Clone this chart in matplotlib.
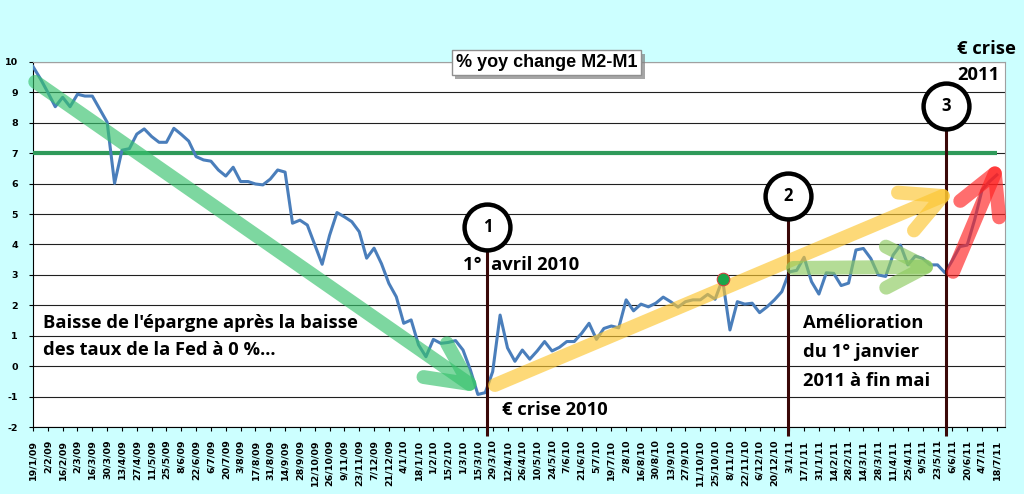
import matplotlib
matplotlib.use("Agg")
import matplotlib.pyplot as plt
import matplotlib.patheffects as pe
import numpy as np

# weekly % yoy change M2-M1, 19/1/09 -> 18/7/11
values = [9.85, 9.45, 9.0, 8.53, 8.84, 8.53, 8.94, 8.88, 8.88, 8.45,
          8.02, 6.01, 7.1, 7.15, 7.63, 7.8, 7.55, 7.36, 7.36, 7.82,
          7.62, 7.4, 6.89, 6.78, 6.74, 6.45, 6.25, 6.54, 6.07, 6.07,
          5.99, 5.96, 6.15, 6.45, 6.38, 4.7, 4.8, 4.64, 4.0, 3.35,
          4.3, 5.05, 4.91, 4.75, 4.42, 3.55, 3.88, 3.37, 2.72, 2.28,
          1.41, 1.52, 0.7, 0.31, 0.88, 0.75, 0.78, 0.84, 0.53, -0.13,
          -0.93, -0.87, -0.18, 1.68, 0.6, 0.16, 0.53, 0.23, 0.5, 0.81,
          0.5, 0.62, 0.81, 0.81, 1.08, 1.41, 0.88, 1.24, 1.32, 1.26,
          2.18, 1.82, 2.04, 1.95, 2.07, 2.27, 2.12, 1.94, 2.12, 2.18,
          2.18, 2.36, 2.2, 2.86, 1.19, 2.12, 2.04, 2.07, 1.76, 1.95,
          2.18, 2.45, 3.1, 3.15, 3.58, 2.78, 2.37, 3.07, 3.05, 2.65,
          2.73, 3.82, 3.87, 3.54, 3.0, 2.95, 3.65, 3.98, 3.33, 3.62,
          3.54, 3.33, 3.33, 3.07, 3.48, 3.93, 3.98, 4.81, 5.79, 6.07,
          6.29]

tick_labels = ["19/1/09", "2/2/09", "16/2/09", "2/3/09", "16/3/09", "30/3/09",
               "13/4/09", "27/4/09", "11/5/09", "25/5/09", "8/6/09", "22/6/09",
               "6/7/09", "20/7/09", "3/8/09", "17/8/09", "31/8/09", "14/9/09",
               "28/9/09", "12/10/09", "26/10/09", "9/11/09", "23/11/09", "7/12/09",
               "21/12/09", "4/1/10", "18/1/10", "1/2/10", "15/2/10", "1/3/10",
               "15/3/10", "29/3/10", "12/4/10", "26/4/10", "10/5/10", "24/5/10",
               "7/6/10", "21/6/10", "5/7/10", "19/7/10", "2/8/10", "16/8/10",
               "30/8/10", "13/9/10", "27/9/10", "11/10/10", "25/10/10", "8/11/10",
               "22/11/10", "6/12/10", "20/12/10", "3/1/11", "17/1/11", "31/1/11",
               "14/2/11", "28/2/11", "14/3/11", "28/3/11", "11/4/11", "25/4/11",
               "9/5/11", "23/5/11", "6/6/11", "20/6/11", "4/7/11", "18/7/11"]

threshold = 7
peak_week = 93
event_weeks = [61.3, 101.8, 123.2]
event_tops = [4.58, 5.6, 8.55]
event_names = ["1", "2", "3"]

weeks = np.arange(len(values))

calib = "Open Sans"
fs = 13.2
fig = plt.figure(figsize=(10.24, 4.94), dpi=100)
fig.patch.set_facecolor("#ccffff")
ax = fig.add_axes([33 / 1024, 1 - 427 / 494, 972 / 1024, 365 / 494])
ax.set_facecolor("white")

ax.set_xlim(0, 131.1)
ax.set_ylim(-2, 10)
ax.set_yticks(range(-2, 11))
ax.set_yticklabels([str(v) for v in range(-2, 11)], fontsize=6.8,
                   fontweight="bold", family="DejaVu Sans")
ax.set_xticks(np.arange(0, len(values), 2))
ax.set_xticklabels(tick_labels, rotation=90, fontsize=6.8, fontweight="bold",
                   family="DejaVu Sans")
ax.tick_params(axis="x", length=3, width=0.8, pad=6)
ax.tick_params(axis="y", length=3, width=0.8, pad=8)
ax.grid(axis="y", color="#202020", lw=0.8)
ax.set_axisbelow(True)
for s in ["top", "right"]:
    ax.spines[s].set_color("#a0a0a0")
for s in ["left", "bottom"]:
    ax.spines[s].set_color("black")

ax.hlines(threshold, 0, len(values) - 1, color="#2f9a5a", lw=3, zorder=3)
ax.plot(weeks, values, color="#4a7ebb", lw=2.2, zorder=4)
ax.plot(weeks[peak_week], values[peak_week], "o", ms=9, mfc="#1aa64a",
        mec="#d04040", mew=0.8, zorder=11)

# event markers
for wk, top, name in zip(event_weeks, event_tops, event_names):
    ax.plot([wk, wk], [top, -2.3], color="#3a0808", lw=2.2, zorder=7,
            clip_on=False, solid_capstyle="butt")
    ax.plot(wk, top, "o", ms=33, mfc="white", mec="black", mew=3.2, zorder=8,
            clip_on=False)
    ax.text(wk, top, name, ha="center", va="center", fontsize=12,
            fontweight="bold", family=calib, zorder=9)

# trend arrows
def arrow(start, end, color, hl, hw):
    ax.annotate("", xy=end, xytext=start, annotation_clip=False,
                arrowprops=dict(arrowstyle="->,head_length=%s,head_width=%s" % (hl, hw),
                                color=color, alpha=0.65, lw=10,
                                mutation_scale=40, shrinkA=0, shrinkB=0,
                                capstyle="round", joinstyle="round"),
                zorder=10)

arrow((0.3, 9.35), (60.6, -0.88), "#37c26d", 0.75, 0.37)
arrow((62.3, -0.62), (124.6, 5.79), "#fcc630", 0.72, 0.37)
arrow((102.5, 3.23), (122.5, 3.27), "#8cca5e", 0.72, 0.37)
arrow((124.1, 3.1), (130.5, 6.78), "#ff2020", 0.7, 0.38)

# title box with drop shadow
title = ax.text(57.0, 9.97, "% yoy change M2-M1", fontsize=13, fontweight="bold",
                family="Liberation Sans", va="center", ha="left", zorder=13,
                bbox=dict(boxstyle="square,pad=0.22", fc="white", ec="#909090", lw=1))
title.get_bbox_patch().set_path_effects(
    [pe.SimplePatchShadow(offset=(2.5, -2.5), shadow_rgbFace="#808080", alpha=0.7),
     pe.Normal()])

ax.text(124.6, 10.43, "€ crise", fontsize=fs, fontweight="bold", family=calib,
        va="center", ha="left", clip_on=False)
ax.text(124.6, 9.57, "2011", fontsize=fs, fontweight="bold", family=calib,
        va="center", ha="left", zorder=12)
ax.text(58.0, 3.32, "1°  avril 2010", fontsize=fs, fontweight="bold",
        family=calib, va="center", ha="left", zorder=12)
ax.text(1.35, 1.42, "Baisse de l'épargne après la baisse", fontsize=fs,
        fontweight="bold", family=calib, va="center", ha="left", zorder=12)
ax.text(1.35, 0.53, "des taux de la Fed à 0 %...", fontsize=fs,
        fontweight="bold", family=calib, va="center", ha="left", zorder=12)
ax.text(63.25, -1.44, "€ crise 2010", fontsize=fs, fontweight="bold",
        family=calib, va="center", ha="left", zorder=12)
ax.text(103.8, 1.42, "Amélioration", fontsize=fs, fontweight="bold",
        family=calib, va="center", ha="left", zorder=12)
ax.text(103.8, 0.47, "du 1° janvier", fontsize=fs, fontweight="bold",
        family=calib, va="center", ha="left", zorder=12)
ax.text(103.8, -0.49, "2011 à fin mai", fontsize=fs, fontweight="bold",
        family=calib, va="center", ha="left", zorder=12)

fig.savefig("out.png", dpi=100, facecolor=fig.get_facecolor())
